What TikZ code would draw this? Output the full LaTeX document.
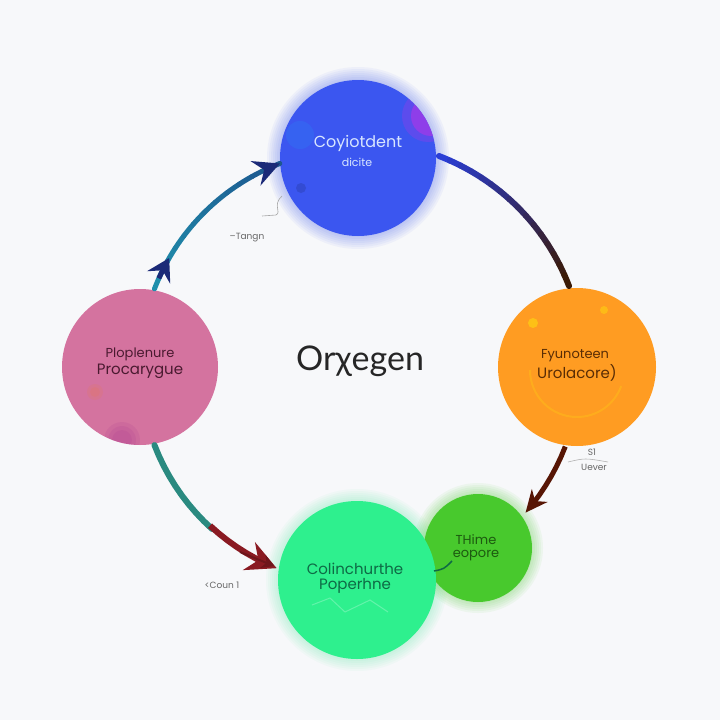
\documentclass[tikz,border=0pt]{standalone}
\usepackage{fontspec}
\setmainfont{Poppins}
\newfontfamily\titlefont{Lato}
\usetikzlibrary{arrows.meta,decorations.markings}
\definecolor{bgc}{HTML}{F7F8FA}
\definecolor{cblue}{HTML}{3B56F0}
\definecolor{cblueline}{HTML}{2A3ED6}
\definecolor{cbrown}{HTML}{3A1A06}
\definecolor{corange}{HTML}{FF9C22}
\definecolor{cpink}{HTML}{D4739F}
\definecolor{cgreen}{HTML}{2EF08E}
\definecolor{csgreen}{HTML}{48C92D}
\definecolor{cteal}{HTML}{1F8FAC}
\definecolor{cnavy}{HTML}{1B2A78}
\definecolor{cteal2}{HTML}{2A8A80}
\definecolor{cred}{HTML}{8A1A22}
\definecolor{cpurple}{HTML}{9B3BE8}
\definecolor{tblue}{HTML}{D8E6FF}
\definecolor{tbrown}{HTML}{5A2D05}
\definecolor{tpink}{HTML}{4A1A30}
\definecolor{tgreen}{HTML}{0E6A45}
\definecolor{tsgreen}{HTML}{1D5A10}
\begin{document}
\begin{tikzpicture}[x=1pt,y=-1pt,
  bubble/.style={circle,inner sep=0pt,draw=none},
  lbl/.style={inner sep=0pt,font=\fontsize{9}{10}\selectfont,text=black!60},
  conn/.style={line width=6pt,line cap=round}]
\fill[bgc] (0,0) rectangle (720,720);
\useasboundingbox (0,0) rectangle (720,720);

% soft glows
\foreach \r in {79,81,...,91}{
  \fill[cblue,opacity=0.05] (358,158) circle (\r);
  \fill[cgreen,opacity=0.04] (357,580) circle (\r);
}
\foreach \r in {55,57,...,65}{
  \fill[csgreen,opacity=0.06] (478,548) circle (\r);
}

% circles
\node[bubble,fill=csgreen,minimum size=108pt] (sgreen) at (478,548) {};
\node[bubble,fill=cblue,minimum size=156pt] (blue) at (358,158) {};
\node[bubble,fill=corange,minimum size=158pt] (orange) at (577,367) {};
\node[bubble,fill=cpink,minimum size=156pt] (pink) at (140,367) {};
\node[bubble,fill=cgreen,minimum size=158pt] (green) at (357,580) {};

% patches
\begin{scope}
\clip (358,158) circle (78);
\fill[cpurple,opacity=0.35] (428,116) circle (26);
\fill[cpurple,opacity=0.8] (431,116) circle (20);
\fill[cblue!70!cyan,opacity=0.25] (300,135) circle (14);
\fill[cblue!60!black,opacity=0.3] (301,188) circle (5);
\end{scope}
\begin{scope}
\clip (140,367) circle (78);
\foreach \r in {10,14,18}{\fill[violet!60!cpink,opacity=0.12] (122,440) circle (\r);}
\foreach \r in {5,8}{\fill[orange!60!cpink,opacity=0.15] (95,392) circle (\r);}
\end{scope}
\fill[yellow!70!corange,opacity=0.6] (533,323) circle (5);
\fill[yellow!70!corange,opacity=0.5] (604,310) circle (4);
\draw[yellow!60!corange,opacity=0.3,line width=2pt] (530,370) arc[start angle=180,end angle=20,radius=47];
\begin{scope}
\clip (357,580) circle (79);
\draw[white,opacity=0.25,line width=1pt] (312,605) -- (330,598) -- (345,612) -- (370,600) -- (388,612);
\end{scope}

% connectors
\coordinate (c0) at (358,367);
% pink -> blue
\foreach \i in {0,...,11}{
  \pgfmathtruncatemacro\p{100-\i*55/11}
  \pgfmathsetmacro\a{-159+\i*4}
  \pgfmathsetmacro\b{-159+(\i+1)*4}
  \draw[conn,line width=5pt,color=cteal!\p!cnavy] plot[domain=\a:\b,samples=4] ({358+218*cos(\x)},{367+218*sin(\x)});
}
\draw[line width=5pt,cnavy,-{Stealth[length=26pt,width=26pt,inset=9pt]}] plot[domain=-115:-111,samples=3] ({358+218*cos(\x)},{367+218*sin(\x)});
\draw[line width=5pt,cnavy,-{Stealth[length=22pt,width=26pt,inset=8pt]}] plot[domain=-156:-150,samples=3] ({358+218*cos(\x)},{367+218*sin(\x)});

% blue -> orange
\foreach \i in {0,...,15}{
  \pgfmathtruncatemacro\p{100-\i*100/15}
  \pgfmathsetmacro\a{-69+\i*3}
  \pgfmathsetmacro\b{-69+(\i+1)*3}
  \draw[conn,color=cblueline!\p!cbrown] plot[domain=\a:\b,samples=3] ({358+226*cos(\x)},{367+226*sin(\x)});
}

% orange -> small green
\draw[line width=5pt,cbrown!85!red,-{Stealth[length=22pt,width=20pt,inset=7pt]}] plot[domain=21:41,samples=8] ({358+222*cos(\x)},{367+222*sin(\x)});

% pink -> green
\draw[conn,line width=6pt,cteal2] plot[domain=159:132,samples=10] ({358+218*cos(\x)},{367+218*sin(\x)});
\draw[line width=6pt,cred,-{Stealth[length=30pt,width=30pt,inset=10pt]}] plot[domain=133:112,samples=8] ({358+217*cos(\x)},{367+217*sin(\x)});
\draw[line width=2pt,cred!80!black,-{Stealth[length=12pt,width=14pt]}] (240,552) -- (274,566);

% small link green
\draw[line width=1.5pt,tgreen] (434,571) .. controls (444,569) .. (452,561);

% thin decorative lines
\draw[black!35,line width=0.6pt] (282,196) .. controls (272,205) and (282,212) .. (276,215) -- (262,216);
\draw[black!30,line width=0.6pt] (568,462) .. controls (585,458) .. (608,462);

% texts
\node[inner sep=0pt,text=tblue,font=\fontsize{16}{18}\selectfont] (tb1) at (358,143) {Coyiotdent};
\node[inner sep=0pt,text=tblue,font=\fontsize{11}{12}\selectfont] (tb2) at (357,162) {dicite};
\node[inner sep=0pt,text=tbrown,font=\fontsize{13}{14}\selectfont] (to1) at (575,356) {Fyunoteen};
\node[inner sep=0pt,text=tbrown,font=\fontsize{15}{16}\selectfont] (to2) at (577,373) {Urolacore)};
\node[inner sep=0pt,text=tpink,font=\fontsize{13}{14}\selectfont] (tp1) at (140,354) {Ploplenure};
\node[inner sep=0pt,text=tpink,font=\fontsize{15}{16}\selectfont] (tp2) at (140,371) {Procarygue};
\node[inner sep=0pt,text=tgreen,font=\fontsize{15}{16}\selectfont] (tg1) at (355,569) {Colinchurthe};
\node[inner sep=0pt,text=tgreen,font=\fontsize{15}{16}\selectfont] (tg2) at (355,586) {Poperhne};
\node[inner sep=0pt,text=tsgreen,font=\fontsize{13}{14}\selectfont] (ts1) at (476,540) {THime};
\node[inner sep=0pt,text=tsgreen,font=\fontsize{13}{14}\selectfont] (ts2) at (476,556) {eopore};
\node[inner sep=0pt,text=black!85,font=\titlefont\fontsize{34}{36}\selectfont] (title) at (360,361) {Orχegen};

\node[lbl] (l1) at (247,238) {–Tangn};
\node[lbl] (l2) at (222,585) {<Coun 1};
\node[lbl] (l3) at (592,452) {S1};
\node[lbl] (l4) at (594,467) {Uever};
\end{tikzpicture}
\end{document}
